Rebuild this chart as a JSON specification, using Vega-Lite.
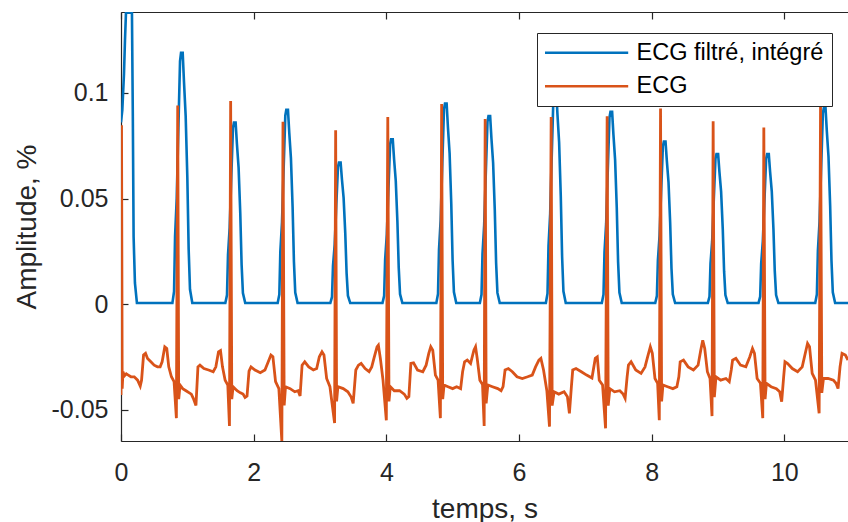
{
  "$schema": "https://vega.github.io/schema/vega-lite/v6.json",
  "width": 727,
  "height": 429,
  "autosize": {"type": "none"},
  "padding": {"left": 121, "top": 12, "right": 0, "bottom": 81},
  "background": "white",
  "config": {
    "view": {"stroke": null},
    "font": "Liberation Sans",
    "axis": {
      "domainColor": "#262626", "domainWidth": 1.2,
      "tickColor": "#262626", "tickWidth": 1.2, "tickSize": -7,
      "labelColor": "#262626", "titleColor": "#262626",
      "labelFontSize": 25, "titleFontSize": 28, "titleFontWeight": "normal",
      "labelFont": "Liberation Sans", "titleFont": "Liberation Sans",
      "grid": false, "labelFlush": false
    }
  },
  "datasets": {
    "filt": [
      {"t":0,"v":0.086},{"t":0.02,"v":0.092},{"t":0.045,"v":0.109},{"t":0.06,"v":0.125},{"t":0.075,"v":0.138},{"t":0.165,"v":0.138},{"t":0.178,"v":0.09},{"t":0.19,"v":0.032},{"t":0.21,"v":0.01},{"t":0.24,"v":0.0005},
      {"t":0.775,"v":0.0005},{"t":0.8,"v":0.006},{"t":0.815,"v":0.032},{"t":0.84,"v":0.05},{"t":0.865,"v":0.083},{"t":0.89,"v":0.115},{"t":0.905,"v":0.119},{"t":0.93,"v":0.119},{"t":0.95,"v":0.105},{"t":0.975,"v":0.089},{"t":1.0,"v":0.06},{"t":1.02,"v":0.026},{"t":1.04,"v":0.007},{"t":1.075,"v":0.0005},
      {"t":1.573,"v":0.0005},{"t":1.598,"v":0.0043},{"t":1.613,"v":0.0232},{"t":1.638,"v":0.0361},{"t":1.663,"v":0.0602},{"t":1.688,"v":0.0834},{"t":1.703,"v":0.086},{"t":1.728,"v":0.086},{"t":1.748,"v":0.0757},{"t":1.773,"v":0.0645},{"t":1.798,"v":0.043},{"t":1.818,"v":0.0189},{"t":1.838,"v":0.0052},{"t":1.873,"v":0.0005},
      {"t":2.362,"v":0.0005},{"t":2.387,"v":0.0046},{"t":2.402,"v":0.0248},{"t":2.427,"v":0.0386},{"t":2.452,"v":0.0644},{"t":2.477,"v":0.0892},{"t":2.492,"v":0.092},{"t":2.517,"v":0.092},{"t":2.537,"v":0.081},{"t":2.562,"v":0.069},{"t":2.587,"v":0.046},{"t":2.607,"v":0.0202},{"t":2.627,"v":0.0055},{"t":2.662,"v":0.0005},
      {"t":3.156,"v":0.0005},{"t":3.181,"v":0.0034},{"t":3.196,"v":0.0181},{"t":3.221,"v":0.0281},{"t":3.246,"v":0.0469},{"t":3.271,"v":0.065},{"t":3.286,"v":0.067},{"t":3.311,"v":0.067},{"t":3.331,"v":0.059},{"t":3.356,"v":0.0503},{"t":3.381,"v":0.0335},{"t":3.401,"v":0.0147},{"t":3.421,"v":0.004},{"t":3.456,"v":0.0005},
      {"t":3.942,"v":0.0005},{"t":3.967,"v":0.0039},{"t":3.982,"v":0.0211},{"t":4.007,"v":0.0328},{"t":4.032,"v":0.0546},{"t":4.057,"v":0.0757},{"t":4.072,"v":0.078},{"t":4.097,"v":0.078},{"t":4.117,"v":0.0686},{"t":4.142,"v":0.0585},{"t":4.167,"v":0.039},{"t":4.187,"v":0.0172},{"t":4.207,"v":0.0047},{"t":4.242,"v":0.0005},
      {"t":4.754,"v":0.0005},{"t":4.779,"v":0.0048},{"t":4.794,"v":0.0257},{"t":4.819,"v":0.0399},{"t":4.844,"v":0.0665},{"t":4.869,"v":0.0922},{"t":4.884,"v":0.095},{"t":4.909,"v":0.095},{"t":4.929,"v":0.0836},{"t":4.954,"v":0.0713},{"t":4.979,"v":0.0475},{"t":4.999,"v":0.0209},{"t":5.019,"v":0.0057},{"t":5.054,"v":0.0005},
      {"t":5.41,"v":0.0005},{"t":5.435,"v":0.0045},{"t":5.45,"v":0.024},{"t":5.475,"v":0.0374},{"t":5.5,"v":0.0623},{"t":5.525,"v":0.0863},{"t":5.54,"v":0.089},{"t":5.565,"v":0.089},{"t":5.585,"v":0.0783},{"t":5.61,"v":0.0668},{"t":5.635,"v":0.0445},{"t":5.655,"v":0.0196},{"t":5.675,"v":0.0053},{"t":5.71,"v":0.0005},
      {"t":6.405,"v":0.0005},{"t":6.43,"v":0.0051},{"t":6.445,"v":0.0275},{"t":6.47,"v":0.0428},{"t":6.495,"v":0.0714},{"t":6.52,"v":0.0989},{"t":6.535,"v":0.102},{"t":6.56,"v":0.102},{"t":6.58,"v":0.0898},{"t":6.605,"v":0.0765},{"t":6.63,"v":0.051},{"t":6.65,"v":0.0224},{"t":6.67,"v":0.0061},{"t":6.705,"v":0.0005},
      {"t":7.249,"v":0.0005},{"t":7.274,"v":0.0046},{"t":7.289,"v":0.0246},{"t":7.314,"v":0.0382},{"t":7.339,"v":0.0637},{"t":7.364,"v":0.0883},{"t":7.379,"v":0.091},{"t":7.404,"v":0.091},{"t":7.424,"v":0.0801},{"t":7.449,"v":0.0683},{"t":7.474,"v":0.0455},{"t":7.494,"v":0.02},{"t":7.514,"v":0.0055},{"t":7.549,"v":0.0005},
      {"t":8.054,"v":0.0005},{"t":8.079,"v":0.0039},{"t":8.094,"v":0.0208},{"t":8.119,"v":0.0323},{"t":8.144,"v":0.0539},{"t":8.169,"v":0.0747},{"t":8.184,"v":0.077},{"t":8.209,"v":0.077},{"t":8.229,"v":0.0678},{"t":8.254,"v":0.0578},{"t":8.279,"v":0.0385},{"t":8.299,"v":0.0169},{"t":8.319,"v":0.0046},{"t":8.354,"v":0.0005},
      {"t":8.847,"v":0.0005},{"t":8.872,"v":0.0036},{"t":8.887,"v":0.0192},{"t":8.912,"v":0.0298},{"t":8.937,"v":0.0497},{"t":8.962,"v":0.0689},{"t":8.977,"v":0.071},{"t":9.002,"v":0.071},{"t":9.022,"v":0.0625},{"t":9.047,"v":0.0533},{"t":9.072,"v":0.0355},{"t":9.092,"v":0.0156},{"t":9.112,"v":0.0043},{"t":9.147,"v":0.0005},
      {"t":9.611,"v":0.0005},{"t":9.636,"v":0.0036},{"t":9.651,"v":0.0192},{"t":9.676,"v":0.0298},{"t":9.701,"v":0.0497},{"t":9.726,"v":0.0689},{"t":9.741,"v":0.071},{"t":9.766,"v":0.071},{"t":9.786,"v":0.0625},{"t":9.811,"v":0.0533},{"t":9.836,"v":0.0355},{"t":9.856,"v":0.0156},{"t":9.876,"v":0.0043},{"t":9.911,"v":0.0005},
      {"t":10.466,"v":0.0005},{"t":10.491,"v":0.0047},{"t":10.506,"v":0.0251},{"t":10.531,"v":0.0391},{"t":10.556,"v":0.0651},{"t":10.581,"v":0.0902},{"t":10.596,"v":0.093},{"t":10.621,"v":0.093},{"t":10.641,"v":0.0818},{"t":10.666,"v":0.0698},{"t":10.691,"v":0.0465},{"t":10.711,"v":0.0205},{"t":10.731,"v":0.0056},{"t":10.766,"v":0.0005},
      {"t":10.96,"v":0.0005}
    ],
    "ecg": [
      {"t":0,"v":-0.043},{"t":0.008,"v":0.0847},{"t":0.018,"v":-0.04},{"t":0.03,"v":-0.032},{"t":0.05,"v":-0.034},{"t":0.08,"v":-0.033},{"t":0.11,"v":-0.0336},{"t":0.15,"v":-0.0344},{"t":0.2,"v":-0.0344},{"t":0.25,"v":-0.036},{"t":0.29,"v":-0.0388},{"t":0.31,"v":-0.036},{"t":0.34,"v":-0.0241},{"t":0.37,"v":-0.0233},{"t":0.4,"v":-0.0257},{"t":0.45,"v":-0.0273},{"t":0.5,"v":-0.0289},{"t":0.55,"v":-0.0297},{"t":0.59,"v":-0.0297},{"t":0.62,"v":-0.0273},{"t":0.66,"v":-0.0202},{"t":0.69,"v":-0.021},{"t":0.72,"v":-0.0297},{"t":0.76,"v":-0.0344},{"t":0.8,"v":-0.0367},{"t":0.835,"v":-0.054},{"t":0.855,"v":0.094},
      {"t":0.87,"v":-0.045},{"t":0.89,"v":-0.0383},{"t":0.93,"v":-0.04},{"t":0.98,"v":-0.041},{"t":1.03,"v":-0.042},{"t":1.06,"v":-0.0426},{"t":1.09,"v":-0.0446},{"t":1.13,"v":-0.048},{"t":1.16,"v":-0.0297},{"t":1.19,"v":-0.0289},{"t":1.25,"v":-0.0305},{"t":1.32,"v":-0.0312},{"t":1.39,"v":-0.032},{"t":1.43,"v":-0.0297},{"t":1.47,"v":-0.0226},{"t":1.5,"v":-0.022},{"t":1.53,"v":-0.0297},{"t":1.57,"v":-0.036},{"t":1.61,"v":-0.0383},{"t":1.635,"v":-0.0577},{"t":1.653,"v":0.0962},
      {"t":1.67,"v":-0.045},{"t":1.69,"v":-0.0391},{"t":1.75,"v":-0.041},{"t":1.8,"v":-0.042},{"t":1.84,"v":-0.0426},{"t":1.87,"v":-0.0442},{"t":1.9,"v":-0.0435},{"t":1.93,"v":-0.0317},{"t":1.96,"v":-0.0297},{"t":2.02,"v":-0.0312},{"t":2.1,"v":-0.0325},{"t":2.17,"v":-0.0312},{"t":2.22,"v":-0.0273},{"t":2.26,"v":-0.0241},{"t":2.29,"v":-0.0249},{"t":2.33,"v":-0.0367},{"t":2.38,"v":-0.04},{"t":2.425,"v":-0.065},{"t":2.442,"v":0.0863},
      {"t":2.46,"v":-0.048},{"t":2.48,"v":-0.0391},{"t":2.55,"v":-0.04},{"t":2.62,"v":-0.0415},{"t":2.67,"v":-0.041},{"t":2.7,"v":-0.0435},{"t":2.73,"v":-0.0289},{"t":2.77,"v":-0.0273},{"t":2.83,"v":-0.0297},{"t":2.9,"v":-0.0312},{"t":2.95,"v":-0.0305},{"t":2.99,"v":-0.0249},{"t":3.03,"v":-0.0226},{"t":3.06,"v":-0.0241},{"t":3.1,"v":-0.0352},{"t":3.15,"v":-0.0391},{"t":3.22,"v":-0.0563},{"t":3.236,"v":0.0823},
      {"t":3.25,"v":-0.046},{"t":3.27,"v":-0.0391},{"t":3.35,"v":-0.04},{"t":3.42,"v":-0.0415},{"t":3.47,"v":-0.044},{"t":3.5,"v":-0.047},{"t":3.54,"v":-0.0312},{"t":3.58,"v":-0.0289},{"t":3.62,"v":-0.0281},{"t":3.68,"v":-0.0305},{"t":3.74,"v":-0.032},{"t":3.78,"v":-0.0297},{"t":3.82,"v":-0.0249},{"t":3.86,"v":-0.0202},{"t":3.88,"v":-0.0194},{"t":3.91,"v":-0.0257},{"t":3.95,"v":-0.036},{"t":4.0,"v":-0.055},{"t":4.022,"v":0.0886},
      {"t":4.04,"v":-0.046},{"t":4.06,"v":-0.0391},{"t":4.12,"v":-0.041},{"t":4.2,"v":-0.041},{"t":4.27,"v":-0.0426},{"t":4.31,"v":-0.0446},{"t":4.34,"v":-0.0438},{"t":4.37,"v":-0.0281},{"t":4.41,"v":-0.0278},{"t":4.47,"v":-0.0312},{"t":4.55,"v":-0.032},{"t":4.6,"v":-0.0289},{"t":4.64,"v":-0.0233},{"t":4.67,"v":-0.0202},{"t":4.7,"v":-0.0218},{"t":4.74,"v":-0.0336},{"t":4.78,"v":-0.036},{"t":4.815,"v":-0.054},{"t":4.834,"v":0.0947},
      {"t":4.85,"v":-0.045},{"t":4.87,"v":-0.0383},{"t":4.93,"v":-0.0391},{"t":5.0,"v":-0.04},{"t":5.06,"v":-0.0391},{"t":5.12,"v":-0.04},{"t":5.15,"v":-0.032},{"t":5.18,"v":-0.0273},{"t":5.22,"v":-0.0265},{"t":5.27,"v":-0.0281},{"t":5.32,"v":-0.0218},{"t":5.345,"v":-0.0202},{"t":5.37,"v":-0.0257},{"t":5.41,"v":-0.036},{"t":5.45,"v":-0.038},{"t":5.475,"v":-0.0577},{"t":5.49,"v":0.0876},
      {"t":5.505,"v":-0.047},{"t":5.53,"v":-0.0383},{"t":5.6,"v":-0.0391},{"t":5.68,"v":-0.04},{"t":5.73,"v":-0.041},{"t":5.76,"v":-0.0391},{"t":5.79,"v":-0.0312},{"t":5.84,"v":-0.0305},{"t":5.9,"v":-0.032},{"t":5.97,"v":-0.0344},{"t":6.05,"v":-0.0352},{"t":6.13,"v":-0.0344},{"t":6.2,"v":-0.0336},{"t":6.25,"v":-0.0297},{"t":6.3,"v":-0.0265},{"t":6.33,"v":-0.0257},{"t":6.37,"v":-0.0312},{"t":6.42,"v":-0.041},{"t":6.46,"v":-0.058},{"t":6.485,"v":0.0886},
      {"t":6.5,"v":-0.048},{"t":6.53,"v":-0.0415},{"t":6.6,"v":-0.0426},{"t":6.68,"v":-0.0415},{"t":6.73,"v":-0.0438},{"t":6.76,"v":-0.0517},{"t":6.79,"v":-0.0391},{"t":6.81,"v":-0.0312},{"t":6.86,"v":-0.0305},{"t":6.94,"v":-0.032},{"t":7.02,"v":-0.0336},{"t":7.1,"v":-0.035},{"t":7.15,"v":-0.0257},{"t":7.18,"v":-0.025},{"t":7.21,"v":-0.036},{"t":7.26,"v":-0.0383},{"t":7.305,"v":-0.0588},{"t":7.329,"v":0.089},
      {"t":7.345,"v":-0.048},{"t":7.37,"v":-0.04},{"t":7.44,"v":-0.0415},{"t":7.52,"v":-0.041},{"t":7.57,"v":-0.0426},{"t":7.6,"v":-0.0446},{"t":7.63,"v":-0.0344},{"t":7.65,"v":-0.0289},{"t":7.69,"v":-0.0273},{"t":7.76,"v":-0.0312},{"t":7.84,"v":-0.0328},{"t":7.9,"v":-0.0297},{"t":7.94,"v":-0.0249},{"t":7.98,"v":-0.0202},{"t":8.01,"v":-0.0233},{"t":8.05,"v":-0.0352},{"t":8.09,"v":-0.0375},{"t":8.115,"v":-0.055},{"t":8.134,"v":0.0926},
      {"t":8.15,"v":-0.046},{"t":8.17,"v":-0.0383},{"t":8.24,"v":-0.0391},{"t":8.32,"v":-0.04},{"t":8.38,"v":-0.0391},{"t":8.41,"v":-0.0344},{"t":8.43,"v":-0.0273},{"t":8.48,"v":-0.0265},{"t":8.55,"v":-0.0297},{"t":8.63,"v":-0.0312},{"t":8.7,"v":-0.0289},{"t":8.74,"v":-0.0218},{"t":8.77,"v":-0.0171},{"t":8.8,"v":-0.021},{"t":8.84,"v":-0.032},{"t":8.88,"v":-0.0352},{"t":8.91,"v":-0.053},{"t":8.927,"v":0.0866},
      {"t":8.945,"v":-0.044},{"t":8.97,"v":-0.0344},{"t":9.04,"v":-0.036},{"t":9.12,"v":-0.0352},{"t":9.17,"v":-0.0367},{"t":9.2,"v":-0.0312},{"t":9.22,"v":-0.0265},{"t":9.27,"v":-0.0257},{"t":9.34,"v":-0.0289},{"t":9.42,"v":-0.0297},{"t":9.48,"v":-0.0249},{"t":9.52,"v":-0.021},{"t":9.55,"v":-0.0233},{"t":9.59,"v":-0.0352},{"t":9.64,"v":-0.0375},{"t":9.675,"v":-0.054},{"t":9.691,"v":0.0836},
      {"t":9.71,"v":-0.045},{"t":9.73,"v":-0.0375},{"t":9.8,"v":-0.0391},{"t":9.88,"v":-0.04},{"t":9.93,"v":-0.0415},{"t":9.96,"v":-0.0462},{"t":9.99,"v":-0.0344},{"t":10.01,"v":-0.0273},{"t":10.05,"v":-0.0281},{"t":10.12,"v":-0.0305},{"t":10.2,"v":-0.032},{"t":10.27,"v":-0.0297},{"t":10.31,"v":-0.0241},{"t":10.35,"v":-0.0186},{"t":10.38,"v":-0.0202},{"t":10.42,"v":-0.0328},{"t":10.47,"v":-0.036},{"t":10.525,"v":-0.0517},{"t":10.546,"v":0.0934},
      {"t":10.565,"v":-0.042},{"t":10.59,"v":-0.0352},{"t":10.66,"v":-0.0352},{"t":10.74,"v":-0.036},{"t":10.78,"v":-0.0375},{"t":10.81,"v":-0.04},{"t":10.84,"v":-0.0297},{"t":10.87,"v":-0.0233},{"t":10.92,"v":-0.0241},{"t":10.96,"v":-0.0265}
    ]
  },
  "resolve": {"axis": {"x": "independent"}},
  "layer": [
    {
      "data": {"name": "filt"},
      "mark": {"type": "line", "strokeWidth": 2.6, "clip": true},
      "encoding": {
        "x": {
          "field": "t", "type": "quantitative",
          "scale": {"domain": [0, 10.96], "nice": false, "zero": false},
          "axis": {"orient": "bottom", "values": [0, 2, 4, 6, 8, 10], "title": "temps, s", "labelPadding": 26, "titlePadding": 10}
        },
        "y": {
          "field": "v", "type": "quantitative",
          "scale": {"domain": [-0.0648, 0.1383], "nice": false, "zero": false},
          "axis": {"values": [-0.05, 0, 0.05, 0.1], "labelExpr": "toString(datum.value)", "title": "Amplitude, %", "labelPadding": 20, "titlePadding": 10}
        },
        "color": {
          "datum": "ECG filtré, intégré", "type": "nominal",
          "scale": {"domain": ["ECG filtré, intégré", "ECG"], "range": ["#0072BD", "#D95319"]},
          "legend": {
            "orient": "none", "legendX": 416, "legendY": 21, "title": null,
            "symbolType": "M-5.2,0H5.2", "symbolSize": 256, "symbolStrokeWidth": 2.6,
            "symbolOffset": 29.85, "labelOffset": 38.2,
            "labelFontSize": 23.5, "labelFont": "Liberation Sans", "labelColor": "#000000", "labelLimit": 400,
            "rowPadding": 8.5, "padding": 8,
            "strokeColor": "#262626", "fillColor": "white", "cornerRadius": 0
          }
        }
      }
    },
    {
      "data": {"name": "ecg"},
      "mark": {"type": "line", "strokeWidth": 2.8, "clip": true},
      "encoding": {
        "x": {
          "field": "t", "type": "quantitative",
          "axis": {"orient": "top", "values": [0, 2, 4, 6, 8, 10], "labels": false, "title": null}
        },
        "y": {"field": "v", "type": "quantitative"},
        "color": {"datum": "ECG", "type": "nominal"}
      }
    }
  ]
}
